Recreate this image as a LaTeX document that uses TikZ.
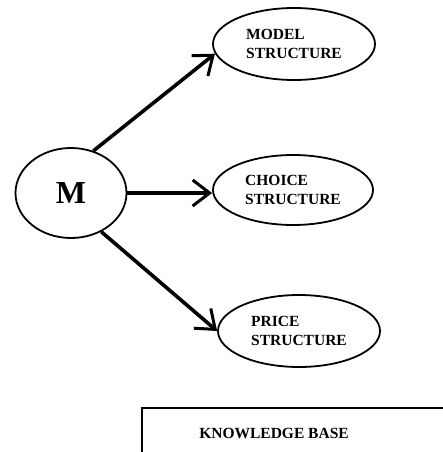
\documentclass[tikz,border=0pt]{standalone}
\usepackage{fontspec}
\setmainfont{Liberation Serif}
\usetikzlibrary{shapes.geometric,arrows.meta}
\begin{document}
\begin{tikzpicture}[x=1pt,y=-1pt,
  oval/.style={draw,ellipse,line width=1.8pt,inner sep=0pt,align=left,
    font=\fontsize{15.5}{19}\selectfont\bfseries},
  arr/.style={line width=3.6pt,-{Straight Barb[length=17pt,width=26pt,line width=3pt]}},
  lbl/.style={font=\fontsize{15.5}{19}\selectfont\bfseries,inner sep=0pt}]
\useasboundingbox (0,0) rectangle (443,452);
\clip (0,0) rectangle (443,452);
\node[draw,ellipse,line width=1.8pt,minimum width=111pt,minimum height=90pt,inner sep=0pt,
  font=\fontsize{32}{36}\selectfont\bfseries] (M) at (71,193) {M};
\node[oval,minimum width=162pt,minimum height=72pt] (model) at (294,44) {MODEL\\STRUCTURE};
\node[oval,minimum width=160pt,minimum height=70pt] (choice) at (293,190) {CHOICE\\STRUCTURE};
\node[oval,minimum width=162pt,minimum height=72pt] (price) at (299,331) {PRICE\\STRUCTURE};
\draw[arr] (M.62) -- (model.187);
\draw[arr] (M.east) -- (M.east -| choice.west);
\draw[arr] (M.-52) -- (price.west);
\draw[line width=1.8pt] (142,408) rectangle (470,480);
\node[lbl] (kb) at (274,433) {KNOWLEDGE BASE};
\end{tikzpicture}
\end{document}
